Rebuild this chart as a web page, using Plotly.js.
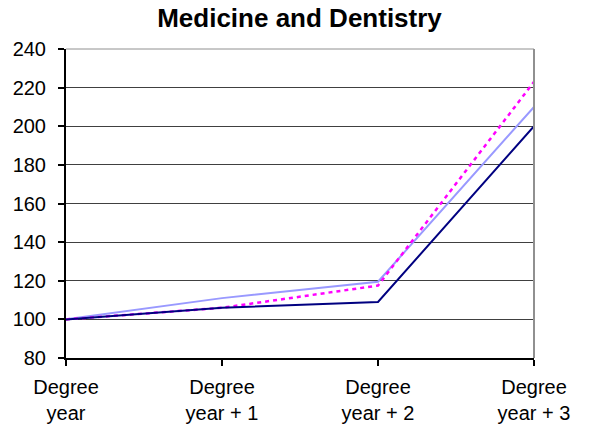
<!DOCTYPE html>
<html><head><meta charset="utf-8">
<script src="https://cdn.plot.ly/plotly-3.0.1.min.js"></script>
<style>html,body{margin:0;padding:0;background:#fff}#chart{width:599px;height:435px}</style>
</head><body><div id="chart"></div>
<script>
const categories = ["Degree<br>year", "Degree<br>year + 1", "Degree<br>year + 2", "Degree<br>year + 3"];
const seriesNavy = [100, 106, 109, 200];
const seriesLight = [100, 111, 119.5, 210];
const seriesMagenta = [100, 106, 117.5, 223];
const yTicks = [80, 100, 120, 140, 160, 180, 200, 220, 240];

const xIdx = categories.map((c, i) => i);
const traces = [
  {x: xIdx, y: seriesLight, mode: 'lines', line: {color: '#9999FF', width: 2}},
  {x: xIdx, y: seriesMagenta, mode: 'lines', line: {color: '#FF00FF', width: 2.5, dash: '4px,4px'}},
  {x: xIdx, y: seriesNavy, mode: 'lines', line: {color: '#000080', width: 2}}
];
const layout = {
  width: 599, height: 435,
  margin: {l: 66, r: 65, t: 49, b: 77},
  paper_bgcolor: '#fff', plot_bgcolor: '#fff',
  showlegend: false,
  font: {family: 'Liberation Sans, Arial, sans-serif', size: 20, color: '#000'},
  title: {text: '<b>Medicine and Dentistry</b>', x: 0.5, xanchor: 'center', y: 0.96, yanchor: 'middle',
          font: {size: 26, color: '#000', family: 'Liberation Sans, Arial, sans-serif'}},
  xaxis: {
    range: [0, 3], tickvals: xIdx, ticktext: categories,
    showgrid: false, zeroline: false,
    showline: true, linecolor: '#000', linewidth: 2,
    ticks: 'outside', ticklen: 6, tickcolor: '#000', tickwidth: 2,
    ticklabelstandoff: 4,
    mirror: false, fixedrange: true
  },
  yaxis: {
    range: [80, 240], tickvals: yTicks,
    showgrid: true, gridcolor: '#404040', gridwidth: 1, zeroline: false,
    showline: true, linecolor: '#000', linewidth: 2,
    ticks: 'outside', ticklen: 6, tickcolor: '#000', tickwidth: 2,
    ticklabelstandoff: 8, fixedrange: true
  },
  shapes: [
    {type: 'line', xref: 'paper', yref: 'paper', x0: 1, x1: 1, y0: 0, y1: 1, line: {color: '#909090', width: 2}},
    {type: 'line', xref: 'paper', yref: 'paper', x0: 0, x1: 1, y0: 1, y1: 1, line: {color: '#909090', width: 1}}
  ]
};
Plotly.newPlot('chart', traces, layout, {displayModeBar: false, staticPlot: true});
</script></body></html>
